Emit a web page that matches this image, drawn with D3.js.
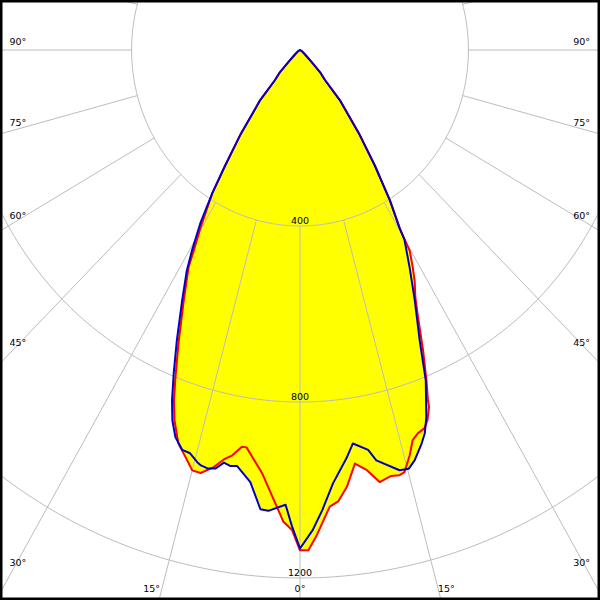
<!DOCTYPE html>
<html>
<head>
<meta charset="utf-8">
<script src="https://cdn.jsdelivr.net/npm/d3@7"></script>
<style>
  body { margin: 0; background: #fff; }
  svg text { font-family: "DejaVu Sans", sans-serif; font-size: 9.5px; fill: #000; }
</style>
</head>
<body>
<script>
// luminous intensity (cd) per half plane, gamma in degrees (0 = straight down)
var c0Gamma = [0, 1.0, 2.0, 3.9, 5.05, 6.4, 7.9, 9.4, 10.9, 12.6, 13.7, 14.5, 15.8, 16.8, 17.8, 19.0, 19.8, 20.7, 20.9, 21.8, 23.2, 24.8, 26.0, 27.4, 28.5, 29.75, 30.3, 32.0, 34.1, 36.3, 39.7, 41, 43.4, 45, 50, 60, 70, 180];
var c0Cd    = [1137, 1137, 1106, 1040, 1030, 999, 949, 967, 1000, 992, 995, 991, 957, 926, 915, 909, 894, 867, 852, 809, 742, 668, 625, 592, 561, 525, 469, 403, 317, 240, 148, 91, 69, 40, 15, 5, 0, 0];

var c180Gamma = [0, 1.0, 2.1, 3.7, 5.35, 8.0, 8.7, 9.9, 11.0, 12.2, 13.8, 15.0, 16.4, 17.9, 19.5, 20.6, 21.7, 23.4, 25.9, 28.2, 29.0, 30.3, 32.6, 34.1, 36.3, 39.7, 41, 43.4, 45, 50, 60, 70, 180];
var c180Cd    = [1137, 1091, 1073, 1017, 966, 912, 912, 935, 948, 970, 990, 989, 964, 940, 893, 851, 800, 727, 632, 560, 520, 469, 387, 317, 240, 148, 91, 69, 40, 15, 5, 0, 0];

var c90Gamma = [0, 1.6, 2.9, 4.55, 6.8, 8.0, 10.1, 11.0, 13.9, 15.2, 16.3, 17.9, 18.8, 19.8, 20.6, 21.7, 23.3, 25.6, 27.8, 29.9, 30.3, 32.0, 34.1, 36.3, 39.7, 41, 43.4, 45, 50, 60, 70, 180];
var c90Cd    = [1133, 1091, 1047, 988, 934, 903, 923, 950, 984, 986, 971, 940, 920, 886, 851, 808, 719, 631, 558, 498, 470, 403, 317, 240, 148, 91, 69, 40, 15, 5, 0, 0];

var c270Gamma = [0, 1.0, 1.9, 4.1, 5.15, 6.85, 9.0, 9.9, 10.9, 11.9, 13.0, 14.0, 14.6, 15.9, 17.1, 18.6, 19.8, 20.9, 22.2, 23.9, 26.2, 28.2, 29.4, 31.0, 32.6, 34.1, 36.3, 39.7, 41, 43.4, 45, 50, 60, 70, 180];
var c270Cd    = [1133, 1083, 1034, 1050, 1048, 989, 957, 960, 955, 972, 976, 973, 968, 953, 951, 928, 895, 852, 794, 722, 634, 569, 522, 460, 387, 317, 240, 148, 91, 69, 40, 15, 5, 0, 0];

var ringValues = [400, 800, 1200];
var ringLabels = ["400", "800", "1200"];
var angleLabels = [90, 75, 60, 45, 30, 15, 0];

var width = 600, height = 600;
var cx = 300, cy = 50;

// the picture is a little taller than wide, so x and y get their own scale
var rx = d3.scaleLinear().domain([0, 1200]).range([0, 1200 * 0.421]);
var ry = d3.scaleLinear().domain([0, 1200]).range([0, 1200 * 0.44]);

var rad = Math.PI / 180;

function pt(gamma, cd, side)
{
	return [cx + side * rx(cd) * Math.sin(gamma * rad), cy + ry(cd) * Math.cos(gamma * rad)];
}

// full closed outline: left half from top to bottom, then right half bottom to top
function outline(leftG, leftI, rightG, rightI)
{
	var pts = [];
	for (var i = leftG.length - 1; i >= 0; i--) pts.push(pt(leftG[i], leftI[i], -1));
	for (var j = 0; j < rightG.length; j++) pts.push(pt(rightG[j], rightI[j], 1));
	return pts;
}

var redPts = outline(c180Gamma, c180Cd, c0Gamma, c0Cd);
var bluePts = outline(c270Gamma, c270Cd, c90Gamma, c90Cd);

var line = d3.line().curve(d3.curveLinear);

var svg = d3.select("body")
	.append("svg")
	.attr("width", width)
	.attr("height", height);

svg.append("rect")
	.attr("width", width)
	.attr("height", height)
	.attr("fill", "#fff");

// yellow area = union of both outlines
svg.selectAll("path.fill")
	.data([redPts, bluePts])
	.enter()
		.append("path")
		.attr("class", "fill")
		.attr("d", function(d) { return line(d) + "Z"; })
		.attr("fill", "#ffff00")
		.attr("stroke", "none");

var grid = svg.append("g")
	.attr("stroke", "#bcbcbc")
	.attr("stroke-width", 1)
	.attr("fill", "none");

var steps = d3.range(-180, 181, 1);
grid.selectAll("path.ring")
	.data(ringValues)
	.enter()
		.append("path")
		.attr("class", "ring")
		.attr("d", function(v) {
			return line(steps.map(function(a) { return pt(a, v, 1); })) + "Z";
		});

// spokes every 15 degrees, starting at the first ring
grid.selectAll("line.spoke")
	.data(d3.range(0, 360, 15))
	.enter()
		.append("line")
		.attr("class", "spoke")
		.attr("x1", function(a) { return pt(a, ringValues[0], 1)[0]; })
		.attr("y1", function(a) { return pt(a, ringValues[0], 1)[1]; })
		.attr("x2", function(a) { return pt(a, 4000, 1)[0]; })
		.attr("y2", function(a) { return pt(a, 4000, 1)[1]; });

// curves
svg.append("path")
	.attr("d", line(redPts) + "Z")
	.attr("fill", "none")
	.attr("stroke", "#ff0000")
	.attr("stroke-width", 2)
	.attr("stroke-linejoin", "round");

svg.append("path")
	.attr("d", line(bluePts) + "Z")
	.attr("fill", "none")
	.attr("stroke", "#0000c8")
	.attr("stroke-width", 2)
	.attr("stroke-linejoin", "round");

// ring values
svg.selectAll("text.ring")
	.data(ringValues)
	.enter()
		.append("text")
		.attr("class", "ring")
		.attr("x", cx)
		.attr("y", function(v) { return cy + ry(v) - 5; })
		.attr("dy", "0.35em")
		.attr("text-anchor", "middle")
		.text(function(v, i) { return ringLabels[i]; });

// angle labels, placed where each spoke leaves the frame
function exitPoint(a, side)
{
	var s = Math.sin(a * rad), c = Math.cos(a * rad);
	var tx = s > 0 ? rx.invert(cx) / s : Infinity;
	var ty = ry.invert(height - cy) / c;
	var t = Math.min(tx, ty);
	return { p: pt(a, t, side), bottom: ty <= tx };
}

[-1, 1].forEach(function(side)
{
	angleLabels.forEach(function(a)
	{
		if (a === 0 && side === 1) return;
		var e = exitPoint(a, side);
		var t = svg.append("text").attr("dy", "0.35em");
		if (a === 0)
		{
			t.attr("x", cx).attr("y", 589).attr("text-anchor", "middle");
		}
		else if (e.bottom)
		{
			t.attr("x", side < 0 ? e.p[0] + 1 : e.p[0] - 3)
				.attr("y", 589)
				.attr("text-anchor", side < 0 ? "end" : "start");
		}
		else
		{
			var y = e.p[1] - 8 - (e.p[1] - 50) * 0.042;
			t.attr("x", side < 0 ? 9.5 : 590)
				.attr("y", y)
				.attr("text-anchor", side < 0 ? "start" : "end");
		}
		t.text(a + "°");
	});
});

// frame
svg.append("rect")
	.attr("x", 1.25)
	.attr("y", 1.25)
	.attr("width", width - 2.5)
	.attr("height", height - 2.5)
	.attr("fill", "none")
	.attr("stroke", "#000")
	.attr("stroke-width", 2.5);
</script>
</body>
</html>
